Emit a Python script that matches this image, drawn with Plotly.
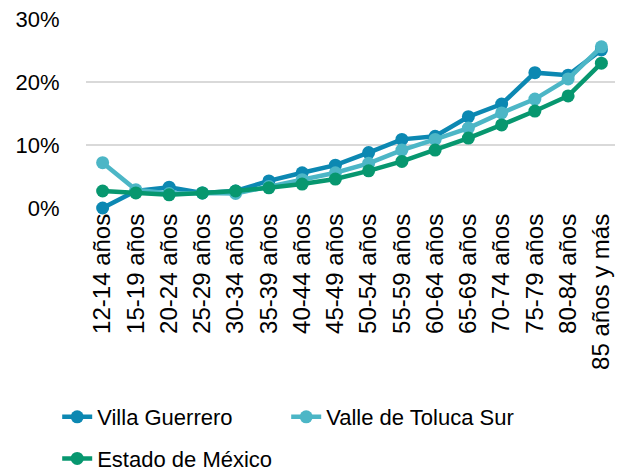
import plotly.graph_objects as go

categories = ["12-14 años", "15-19 años", "20-24 años", "25-29 años", "30-34 años",
              "35-39 años", "40-44 años", "45-49 años", "50-54 años", "55-59 años",
              "60-64 años", "65-69 años", "70-74 años", "75-79 años", "80-84 años",
              "85 años y más"]

villa_guerrero = [0.000, 0.027, 0.033, 0.024, 0.027, 0.043, 0.056, 0.068, 0.088, 0.109,
                  0.114, 0.145, 0.165, 0.215, 0.211, 0.251]
valle_toluca_sur = [0.072, 0.029, 0.023, 0.024, 0.023, 0.034, 0.045, 0.056, 0.071, 0.092,
                    0.109, 0.127, 0.151, 0.173, 0.205, 0.256]
estado_mexico = [0.027, 0.024, 0.021, 0.024, 0.027, 0.032, 0.038, 0.046, 0.059, 0.074,
                 0.092, 0.111, 0.132, 0.154, 0.178, 0.230]

series = [
    ("Villa Guerrero", villa_guerrero, "#0C88B2", "legend"),
    ("Valle de Toluca Sur", valle_toluca_sur, "#4CB6C6", "legend"),
    ("Estado de México", estado_mexico, "#07976F", "legend2"),
]

fig = go.Figure()
for name, vals, color, leg in series:
    fig.add_trace(go.Scatter(
        x=categories, y=vals, name=name, mode="lines+markers",
        line=dict(color=color, width=4.5),
        marker=dict(color=color, size=13),
        cliponaxis=False, legend=leg,
    ))

font = dict(family="Liberation Sans, Arial, sans-serif", size=22, color="#000000")
yfont = dict(family="Liberation Sans, Arial, sans-serif", size=22, color="#000000")
xfont = dict(family="Liberation Sans, Arial, sans-serif", size=24, color="#000000")

legend_common = dict(
    orientation="h",
    xref="container", yref="container",
    x=0.080, xanchor="left", yanchor="top",
    entrywidth=184, entrywidthmode="pixels",
    font=font, bgcolor="rgba(0,0,0,0)",
)

# page body has an 8px margin; figure sized so the plot area lands where the reference has it
fig.update_layout(
    width=615, height=463,
    margin=dict(l=78, r=5, t=11, b=263, autoexpand=False),
    paper_bgcolor="white", plot_bgcolor="white",
    font=font,
    showlegend=True,
    legend=dict(y=0.162, **legend_common),
    legend2=dict(y=0.072, **legend_common),
    xaxis=dict(
        type="category", tickangle=-90, showgrid=False, showline=False,
        ticks="", tickfont=xfont, automargin=False,
        range=[-0.5, len(categories) - 0.5],
    ),
    yaxis=dict(
        range=[0, 0.3002], tickvals=[0, 0.1, 0.2, 0.3], tickformat=".0%",
        showgrid=True, gridcolor="#D9D9D9", gridwidth=1.5, zeroline=False,
        showline=False, ticks="outside", ticklen=21, tickcolor="rgba(0,0,0,0)",
        tickfont=yfont, automargin=False, ticklabeloverflow="allow",
    ),
)

fig.write_html("out.html")
